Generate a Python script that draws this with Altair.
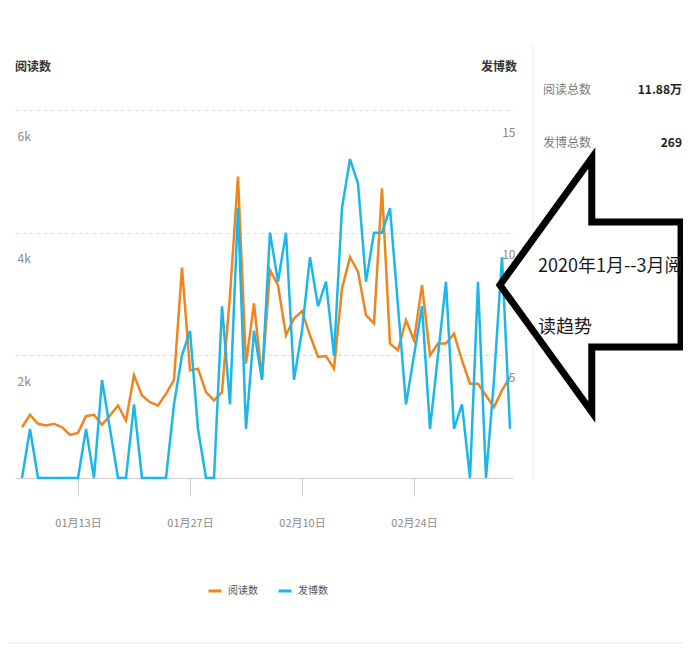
import altair as alt
import pandas as pd

# ---- data ----
days = pd.date_range("2020-01-06", periods=62)
dates = [f"{d.month:02d}月{d.day:02d}日" for d in days]
tick_labels = ["01月13日", "01月27日", "02月10日", "02月24日"]

reads = [828, 1030, 883, 856, 883, 828, 703, 736, 1008, 1030, 867, 1019, 1183, 937,
         1673, 1346, 1237, 1183, 1373, 1600, 3430,
         1755, 1782, 1400, 1264, 1400, 2981, 4916, 1864, 2845, 1619, 3390, 3145, 2327,
         2600, 2720, 2327, 1973, 1989, 1782, 3090, 3600,
         3363, 2654, 2518, 4725, 2191, 2082, 2572, 2245, 3145, 2000, 2191, 2191, 2354,
         1918, 1537, 1537, 1346, 1155, 1428, 1650]
posts = [0, 2, 0, 0, 0, 0, 0, 0, 2, 0, 4, 2, 0, 0, 3, 0, 0, 0, 0, 3, 5,
         6, 2, 0, 0, 7, 3, 11, 2, 6, 4, 10, 8, 10, 4, 6, 9, 7, 8, 5, 11, 13,
         12, 8, 10, 10, 11, 7, 3, 5, 7, 2, 5, 8, 2, 3, 0, 8, 0, 4, 9, 2]

series_names = ["阅读数", "发博数"]
series_colors = ["#F0841E", "#1DB6E9"]
stat_names = ["阅读总数", "发博总数"]
stat_values = ["11.88万", "269"]
note_lines = ["2020年1月--3月阅", "读趋势"]

df = pd.DataFrame({"date": dates, "reads": reads, "posts": posts})

FONT = "Noto Sans CJK SC"

x_enc = alt.X(
    "date:O",
    sort=dates,
    scale=alt.Scale(type="point", padding=0.625, align=0.7),
    axis=alt.Axis(
        title=None, values=tick_labels, labelAngle=0, domainColor="#cfcfcf",
        tickColor="#cfcfcf", tickSize=18, labelPadding=21, labelFontSize=11,
        labelColor="#8a8a8a", grid=False, labelFont=FONT,
    ),
)

color_scale = alt.Scale(domain=series_names, range=series_colors)
legend = alt.Legend(
    title=None, orient="none", legendX=192, legendY=473, direction="horizontal",
    symbolType="stroke", symbolSize=169, symbolStrokeWidth=3, labelFontSize=10,
    labelColor="#555555", labelFont=FONT, columnPadding=14, labelOffset=5, padding=0,
)

base = alt.Chart(df)

orange = base.mark_line(strokeWidth=2.5).transform_calculate(
    series=f"'{series_names[0]}'"
).encode(
    x=x_enc,
    y=alt.Y(
        "reads:Q",
        scale=alt.Scale(domain=[0, 6000], nice=False),
        axis=alt.Axis(
            title=None, orient="left", values=[2000, 4000, 6000],
            labelExpr="datum.value / 1000 + 'k'", domain=False, ticks=False,
            tickSize=0, labelAlign="left", labelPadding=-2, labelOffset=26,
            labelBaseline="middle", labelFontSize=12, labelColor="#8a8a8a",
            labelFont=FONT, grid=True, gridColor="#dcdcdc", gridDash=[4, 3],
        ),
    ),
    color=alt.Color("series:N", scale=color_scale, legend=legend),
)

blue = base.mark_line(strokeWidth=2.5).transform_calculate(
    series=f"'{series_names[1]}'"
).encode(
    x=x_enc,
    y=alt.Y(
        "posts:Q",
        scale=alt.Scale(domain=[0, 15], nice=False),
        axis=alt.Axis(
            title=None, orient="right", values=[5, 10, 15], domain=False,
            ticks=False, tickSize=0, labelAlign="right", labelPadding=2,
            labelOffset=22, labelBaseline="middle", labelFontSize=12,
            labelColor="#8a8a8a", labelFont=FONT, grid=False,
        ),
    ),
    color=alt.Color("series:N", scale=color_scale, legend=legend),
)

one = alt.Data(values=[{}])

def label(text, x, y, size=12, color="#333333", align="left", weight="normal"):
    return alt.Chart(one).mark_text(
        text=text, fontSize=size, color=color, align=align, baseline="middle",
        fontWeight=weight, font=FONT,
    ).encode(x=alt.value(x), y=alt.value(y))

titles = [
    label(series_names[0], 0, -43, 12, "#333333", "left", "bold"),
    label(series_names[1], 502, -43, 12, "#333333", "right", "bold"),
]

sep = alt.Chart(one).mark_rule(color="#ececec", strokeWidth=1).encode(
    x=alt.value(518), y=alt.value(-65), y2=alt.value(370)
)
bottom_line = alt.Chart(one).mark_rule(color="#e6e6e6", strokeWidth=1).encode(
    x=alt.value(-15), x2=alt.value(676), y=alt.value(533)
)

stats = []
for i, (n, v) in enumerate(zip(stat_names, stat_values)):
    yy = -20 + 53 * i
    stats.append(label(n, 528, yy, 12, "#7a7a7a", "left"))
    stats.append(label(v, 667, yy, 12, "#222222", "right", "bold"))

arrow_path = ("M -0.713 0 L 0.01 -1 L 0.01 -0.496 L 0.713 -0.496 "
              "L 0.713 0.488 L 0.01 0.488 L 0.01 1 Z")
arrow = alt.Chart(one).mark_point(
    shape=arrow_path, size=64516, filled=True, fill="white", stroke="black",
    strokeWidth=7, opacity=1, fillOpacity=1, strokeOpacity=1, strokeJoin="miter",
).encode(x=alt.value(575.5), y=alt.value(175))

notes = [
    label(note_lines[0], 523, 157, 18, "#1a1a1a", "left"),
    label(note_lines[1], 523, 218, 18, "#1a1a1a", "left"),
]

chart = alt.layer(
    orange, blue, *titles, sep, bottom_line, *stats, arrow, *notes
).resolve_scale(y="independent").properties(
    width=498,
    height=368,
    autosize=alt.AutoSizeParams(type="none"),
    padding={"left": 7, "top": 102, "right": 170, "bottom": 167},
).configure(font=FONT, view=alt.ViewConfig(stroke=None))

chart.save("out.html", embed_options={"renderer": "svg", "actions": False})
